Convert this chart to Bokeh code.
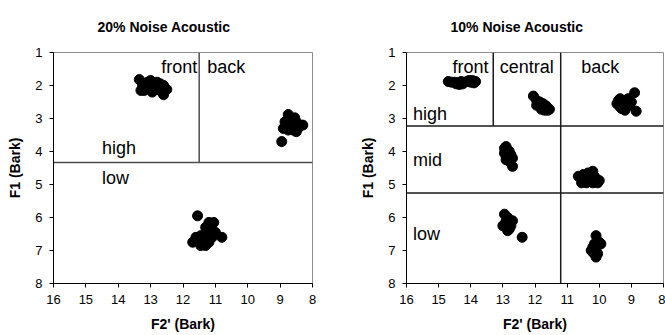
from bokeh.plotting import figure
from bokeh.layouts import row
from bokeh.models import Range1d, FixedTicker, ColumnDataSource
from bokeh.core.properties import value
from bokeh.embed import file_html
from bokeh.resources import INLINE

FONT = "Liberation Sans"

x_ticks = [8, 9, 10, 11, 12, 13, 14, 15, 16]
y_ticks = [1, 2, 3, 4, 5, 6, 7, 8]

# ---- 20% noise: vowel tokens (F2', F1 in Bark) ----
n20_f2 = [13.35, 13.25, 13.2, 13.1, 13.05, 13.0, 12.95, 12.9, 12.85, 12.8,
          12.75, 12.7, 12.65, 12.6, 12.5, 13.15, 12.95, 12.8, 13.3, 12.6,
          8.75, 8.55, 8.85, 8.7, 8.6, 8.5, 8.4, 8.3, 8.9, 8.75,
          8.6, 8.5, 8.65, 8.8, 8.45, 8.95,
          11.55, 11.2, 11.05, 11.3, 11.15, 11.0, 11.25, 11.45, 11.1, 10.8,
          11.7, 11.55, 11.35, 11.2, 11.45, 11.3, 11.6, 11.15]
n20_f1 = [1.82, 2.0, 2.15, 1.9, 2.05, 1.85, 2.1, 1.95, 2.0, 1.9,
          2.05, 1.95, 2.2, 2.28, 2.12, 2.1, 2.2, 2.1, 2.15, 2.0,
          2.88, 2.98, 3.1, 3.15, 3.2, 3.1, 3.2, 3.2, 3.3, 3.35,
          3.35, 3.4, 3.05, 3.2, 3.3, 3.7,
          5.95, 6.15, 6.15, 6.3, 6.4, 6.45, 6.55, 6.55, 6.6, 6.6,
          6.75, 6.7, 6.7, 6.75, 6.85, 6.85, 6.6, 6.25]

# region boundaries
n20_x0 = [11.5, 16.0]
n20_y0 = [1.0, 4.33]
n20_x1 = [11.5, 8.0]
n20_y1 = [4.33, 4.33]

n20_labels = ["front", "back", "high", "low"]
n20_lx = [11.56, 11.25, 14.5, 14.5]
n20_ly = [1.45, 1.45, 3.9, 4.8]
n20_align = ["right", "left", "left", "left"]

# ---- 10% noise: vowel tokens ----
n10_f2 = [14.7, 14.6, 14.5, 14.4, 14.35, 14.3, 14.2, 14.1, 14.05, 14.0,
          13.95, 13.9, 13.85, 14.25, 14.45,
          12.05, 11.95, 11.9, 11.85, 11.8, 11.75, 11.7, 11.65, 11.6, 11.55,
          11.85, 11.95, 11.7, 11.8, 11.65,
          9.45, 9.35, 9.3, 9.25, 9.2, 9.15, 9.1, 9.3, 9.2, 9.05,
          9.35, 9.0, 8.9, 8.85, 9.4,
          12.95, 12.9, 12.85, 12.95, 12.8, 12.9, 12.75, 12.85, 12.7, 12.8,
          12.75, 12.7, 12.9,
          10.2, 10.65, 10.5, 10.4, 10.3, 10.25, 10.1, 10.0, 10.55, 10.4,
          10.2, 10.35, 10.45, 10.15, 10.05,
          12.95, 12.85, 12.9, 13.0, 12.8, 12.75, 12.9, 12.8, 12.7, 12.85,
          12.75, 12.4,
          10.1, 10.0, 9.95, 10.15, 10.2, 10.25, 10.1, 10.05, 10.15, 10.05,
          10.1, 10.2]
n10_f1 = [1.88, 1.9, 1.9, 1.92, 1.97, 1.88, 1.9, 1.87, 1.85, 1.9,
          1.85, 1.92, 1.88, 1.95, 1.95,
          2.32, 2.45, 2.55, 2.5, 2.6, 2.55, 2.65, 2.7, 2.75, 2.72,
          2.65, 2.6, 2.75, 2.72, 2.62,
          2.55, 2.4, 2.5, 2.6, 2.45, 2.55, 2.4, 2.7, 2.75, 2.6,
          2.65, 2.5, 2.22, 2.78, 2.45,
          3.9, 3.85, 3.95, 4.05, 4.0, 4.15, 4.1, 4.2, 4.2, 4.3,
          4.25, 4.45, 4.25,
          4.6, 4.75, 4.7, 4.85, 4.7, 4.9, 4.85, 4.88, 4.95, 4.95,
          4.95, 4.65, 4.8, 4.75, 4.95,
          5.9, 6.0, 6.1, 6.25, 6.15, 6.1, 6.3, 6.35, 6.1, 6.4,
          6.25, 6.6,
          6.55, 6.75, 6.8, 6.8, 6.9, 7.0, 7.0, 6.85, 7.1, 7.1,
          7.2, 7.05]

n10_x0 = [13.3, 11.2, 16.0, 16.0]
n10_y0 = [1.0, 1.0, 3.23, 5.26]
n10_x1 = [13.3, 11.2, 8.0, 8.0]
n10_y1 = [3.23, 8.0, 3.23, 5.26]

n10_labels = ["front", "central", "back", "high", "mid", "low"]
n10_lx = [13.45, 13.1, 10.56, 15.8, 15.8, 15.8]
n10_ly = [1.45, 1.45, 1.45, 2.85, 4.25, 6.5]
n10_align = ["right", "left", "left", "left", "left", "left"]


def panel(title, f2, f1, x0, y0, x1, y1, labels, lx, ly, align,
          line_color, width, border_left, border_right):
    p = figure(width=width, height=335, output_backend="svg",
               toolbar_location=None,
               x_range=Range1d(16, 8), y_range=Range1d(8, 1),
               min_border_left=border_left, min_border_right=border_right,
               min_border_top=52, min_border_bottom=52)
    p.title.text = title
    p.title.align = "left"
    p.title.vertical_align = "top"
    p.title.offset = 44
    p.title.text_font = FONT
    p.title.text_font_size = "14px"
    p.title.text_font_style = "bold"
    p.title.text_color = "black"
    p.title.standoff = 32

    p.xgrid.visible = False
    p.ygrid.visible = False
    p.outline_line_color = "#8c8c8c"
    p.outline_line_width = 1
    p.background_fill_color = "white"
    p.border_fill_color = "white"

    for ax, ticks, lab in ((p.xaxis[0], x_ticks, "F2' (Bark)"),
                           (p.yaxis[0], y_ticks, "F1 (Bark)")):
        ax.ticker = FixedTicker(ticks=ticks)
        ax.axis_label = lab
        ax.axis_label_text_font = FONT
        ax.axis_label_text_font_size = "14px"
        ax.axis_label_text_font_style = "bold"
        ax.axis_label_text_color = "black"
        ax.major_label_text_font = FONT
        ax.major_label_text_font_size = "13px"
        ax.major_label_text_color = "black"
        ax.axis_line_color = "black"
        ax.major_tick_line_color = "black"
        ax.major_tick_in = 0
        ax.major_tick_out = 4
        ax.minor_tick_line_color = None
    p.xaxis.major_label_standoff = 7
    p.xaxis.axis_label_standoff = 9
    p.yaxis.major_label_standoff = 7
    p.yaxis.axis_label_standoff = 9

    p.segment(x0="x0", y0="y0", x1="x1", y1="y1",
              source=ColumnDataSource(dict(x0=x0, y0=y0, x1=x1, y1=y1)),
              line_color=line_color, line_width=1.5)

    p.scatter(x=f2, y=f1, marker="circle", size=10,
              fill_color="black", line_color="black")

    p.text(x="x", y="y", text="t", text_align="a",
           source=ColumnDataSource(dict(x=lx, y=ly, t=labels, a=align)),
           text_baseline="middle", text_font=value(FONT),
           text_font_size="18px", text_color="black")
    return p


left = panel("20% Noise Acoustic", n20_f2, n20_f1, n20_x0, n20_y0, n20_x1,
             n20_y1, n20_labels, n20_lx, n20_ly, n20_align,
             "#4d4d4d", 335, 53, 23)
right = panel("10% Noise Acoustic", n10_f2, n10_f1, n10_x0, n10_y0, n10_x1,
              n10_y1, n10_labels, n10_lx, n10_ly, n10_align,
              "#1a1a1a", 330, 71, 2)

layout = row(left, right)
open("out.html", "w").write(file_html(layout, INLINE))
